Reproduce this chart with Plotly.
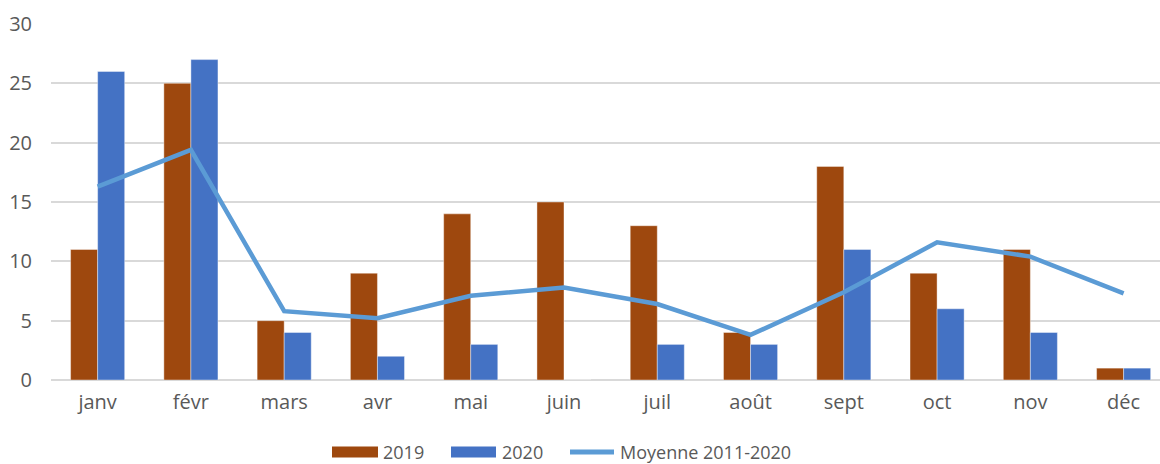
import plotly.graph_objs as go

mois = ['janv', 'févr', 'mars', 'avr', 'mai', 'juin', 'juil', 'août', 'sept', 'oct', 'nov', 'déc']
val_2019 = [11, 25, 5, 9, 14, 15, 13, 4, 18, 9, 11, 1]
val_2020 = [26, 27, 4, 2, 3, 0, 3, 3, 11, 6, 4, 1]
moyenne = [16.3, 19.4, 5.8, 5.2, 7.1, 7.8, 6.4, 3.8, 7.4, 11.6, 10.4, 7.3]

c2019 = '#9E480E'
c2020 = '#4472C4'
cmoy = '#5B9BD5'
gris = '#595959'

fig = go.Figure()

fig.add_trace(go.Bar(x=mois, y=val_2019, name='2019',
                     marker=dict(color=c2019, line=dict(color='rgba(255,255,255,0.5)', width=0.8))))
fig.add_trace(go.Bar(x=mois, y=val_2020, name='2020',
                     marker=dict(color=c2020, line=dict(color='rgba(255,255,255,0.5)', width=0.8))))
fig.add_trace(go.Scatter(x=mois, y=moyenne, name='Moyenne 2011-2020', mode='lines',
                         line=dict(color=cmoy, width=4.5)))

# plot area in pixels: x 51..1160, y 24..380
L, R, T, B = 51, 1160, 24, 380
def px(x):
    return (x - L) / (R - L)
def py(y):
    return (B - y) / (B - T)

# legend drawn by hand (wide swatches like the original)
LEG_Y = 452
shapes = [
    dict(type='rect', xref='paper', yref='paper', x0=px(332), x1=px(378), y0=py(LEG_Y + 5.5), y1=py(LEG_Y - 5.5),
         fillcolor=c2019, line=dict(width=0)),
    dict(type='rect', xref='paper', yref='paper', x0=px(451), x1=px(496), y0=py(LEG_Y + 5.5), y1=py(LEG_Y - 5.5),
         fillcolor=c2020, line=dict(width=0)),
    dict(type='line', xref='paper', yref='paper', x0=px(570), x1=px(614), y0=py(LEG_Y), y1=py(LEG_Y),
         line=dict(color=cmoy, width=5)),
]
annotations = []
for x, txt in [(381, '2019'), (500, '2020'), (618, 'Moyenne 2011-2020')]:
    annotations.append(dict(text=txt, xref='paper', yref='paper', x=px(x), y=py(LEG_Y),
                            xanchor='left', yanchor='middle', showarrow=False,
                            font=dict(size=18, color=gris)))

fig.update_layout(
    width=1160, height=464,
    margin=dict(l=L, r=0, t=T, b=464 - B),
    paper_bgcolor='white', plot_bgcolor='white',
    font=dict(family='Open Sans, Noto Sans, sans-serif', size=20, color=gris),
    barmode='group', bargap=0.42, bargroupgap=0,
    showlegend=False,
    shapes=shapes, annotations=annotations,
)

fig.update_xaxes(range=[-0.5, 11.39], showgrid=False, showline=False, ticks='',
                 tickfont=dict(size=20, color=gris), ticklabelstandoff=8, automargin=False)
fig.update_yaxes(range=[0, 30], dtick=5, showgrid=True, gridcolor='#d9d9d9', gridwidth=1.5,
                 zeroline=True, zerolinecolor='#d9d9d9', zerolinewidth=1.5,
                 ticks='', tickfont=dict(size=20, color=gris), ticklabelstandoff=18,
                 automargin=False)

# drop the default page margin so the figure fills the window
fig.write_html("out.html", config={'displayModeBar': False},
               post_script="document.body.style.margin='0';")
